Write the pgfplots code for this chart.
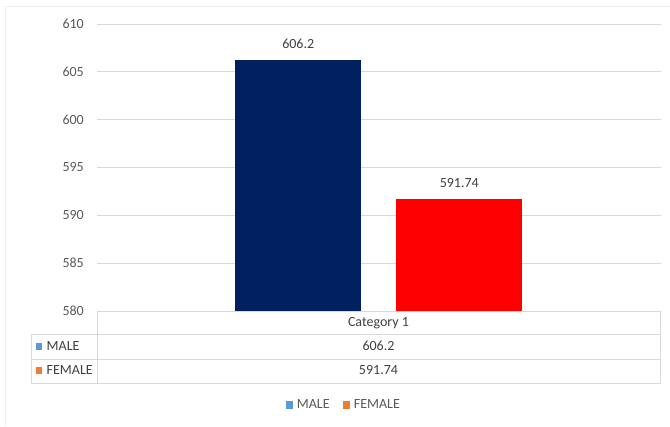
\documentclass[border=0pt]{standalone}
\usepackage{fontspec}
\setmainfont{Carlito}
\usepackage{pgfplots}
\pgfplotsset{compat=1.18}
\definecolor{gridc}{HTML}{D9D9D9}
\definecolor{outerc}{HTML}{EFEFEF}
\definecolor{navyb}{HTML}{002060}
\definecolor{redb}{HTML}{FF0000}
\definecolor{lblue}{HTML}{5B9BD5}
\definecolor{lorange}{HTML}{ED7D31}
\definecolor{txt}{HTML}{404040}
\definecolor{tick}{HTML}{595959}
\begin{document}
\begin{tikzpicture}[x=1bp,y=1bp,font=\fontsize{14bp}{17bp}\selectfont]
\useasboundingbox (0,0) rectangle (670,426);
\draw[outerc, line width=0.75bp] (5,0) -- (5,420) -- (670,420);
\begin{axis}[
  at={(97bp,115bp)}, anchor=south west,
  scale only axis, width=563.5bp, height=287bp,
  xmin=-1, xmax=1, ymin=580, ymax=610,
  ytick={580,585,...,610}, xtick=\empty,
  axis line style={draw=none}, major tick length=0pt,
  ymajorgrids, grid style={gridc, line width=0.75bp},
  /pgf/number format/assume math mode=true,
  /pgf/number format/1000 sep={},
  yticklabel style={anchor=east, inner sep=0pt, xshift=-13bp, text=tick},
  bar width=126bp,
  nodes near coords,
  every node near coord/.append style={anchor=base, inner sep=0pt, yshift=11.5bp, text=txt},
  legend columns=2,
  legend style={at={(0.438,-0.3275)}, anchor=center, draw=none, fill=none,
    text=tick, inner sep=0pt,
    /tikz/every even column/.append style={column sep=11bp}},
]
\addlegendimage{legend image code/.code={\fill[lblue] (0bp,-3.5bp) rectangle (6bp,3.5bp); \path[draw=none,fill=none] (0bp,0bp) rectangle (9bp,0.1bp);}}
\addlegendimage{legend image code/.code={\fill[lorange] (0bp,-3.5bp) rectangle (6bp,3.5bp); \path[draw=none,fill=none] (0bp,0bp) rectangle (9bp,0.1bp);}}
\addplot[ybar, fill=navyb, draw=none, bar shift=-80.5bp,
  every node near coord/.append style={xshift=-80.5bp}] coordinates {(0,606.2)};
\addplot[ybar, fill=redb, draw=none, bar shift=80.5bp,
  every node near coord/.append style={xshift=80.5bp}] coordinates {(0,591.74)};
\legend{MALE,FEMALE}
\end{axis}
% data table
\begin{scope}[gridc, line width=0.75bp]
\draw (97,115) rectangle (660,92);
\draw (31,92) rectangle (660,67);
\draw (31,67) rectangle (660,43);
\draw (97,115) -- (97,43);
\end{scope}
\node[anchor=base, inner sep=0pt, text=txt] at (378.5,99.3) {Category 1};
\node[anchor=base, inner sep=0pt, text=txt] at (378.5,76) {606.2};
\node[anchor=base, inner sep=0pt, text=txt] at (378.5,51.7) {591.74};
\fill[lblue] (35.5,76.5) rectangle (41.5,83);
\node[anchor=base west, inner sep=0pt, text=txt] at (46.5,76) {MALE};
\fill[lorange] (35.5,52.2) rectangle (41.5,58.7);
\node[anchor=base west, inner sep=0pt, text=txt] at (46.5,51.7) {FEMALE};
\end{tikzpicture}
\end{document}
